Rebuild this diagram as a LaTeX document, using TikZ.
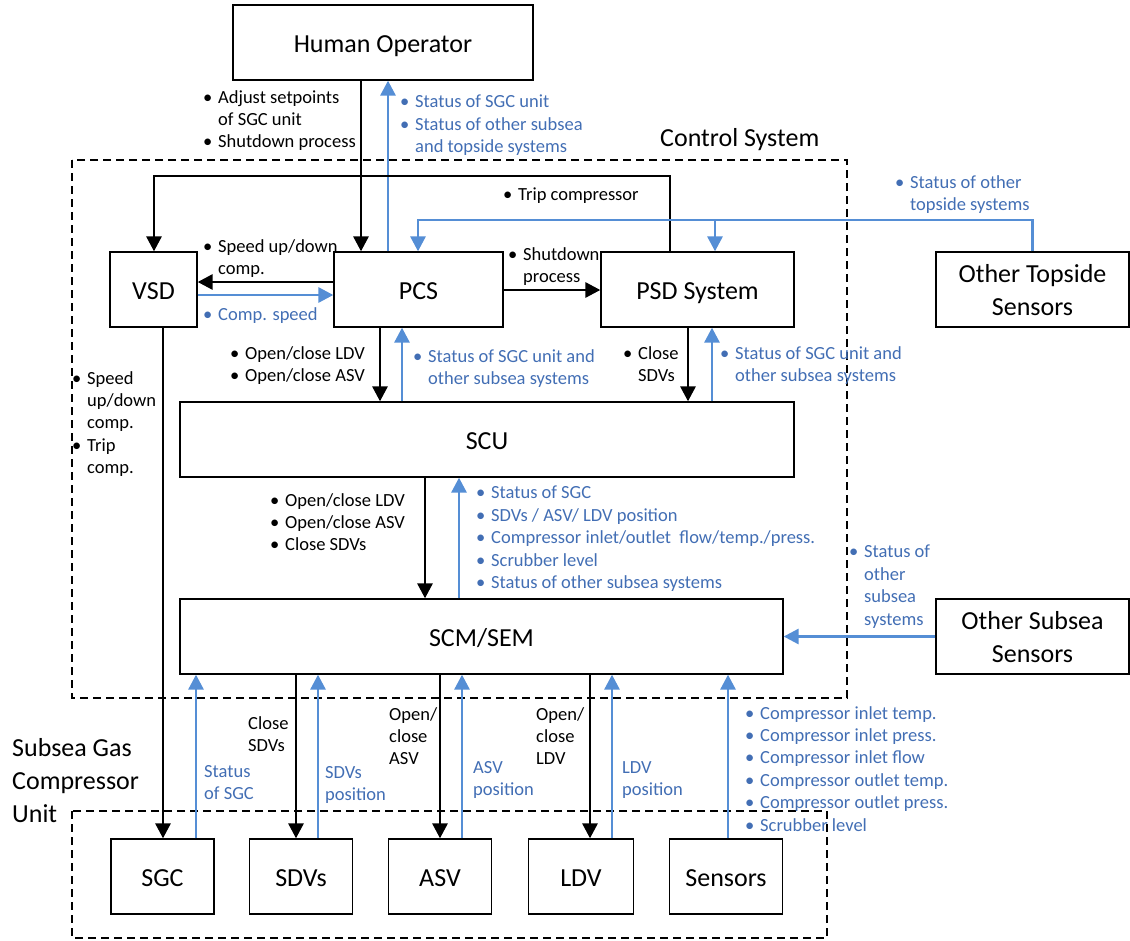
\documentclass[tikz,border=0pt]{standalone}
\usepackage{fontspec}
\setmainfont{Carlito}
\usetikzlibrary{arrows.meta}
\definecolor{sigblue}{RGB}{85,142,213}
\definecolor{txtblue}{RGB}{66,110,180}
\newcommand{\lblfont}{\fontsize{18.5}{22.4}\selectfont}
\newcommand{\bigfont}{\fontsize{26}{32.5}\selectfont}
\newcommand{\hugfont}{\fontsize{26}{33}\selectfont}
\newcommand{\bu}{\makebox[15pt][l]{\textbullet}}
\newcommand{\ind}{\hspace*{15pt}}
% box caption, set a little below the geometric centre
\newcommand{\bx}[1]{\raisebox{-3pt}[\height][\depth]{\begin{tabular}{@{}c@{}}#1\end{tabular}}}

\begin{document}
\begin{tikzpicture}[x=1pt,y=-1pt,
  box/.style={draw, line width=1.3pt, inner sep=0pt, font=\bigfont, minimum height=75pt},
  cmd/.style={line width=2.9pt, -{Triangle[length=15pt,width=15pt]}},
  fb/.style={line width=2.9pt, draw=sigblue, color=sigblue, -{Triangle[length=15pt,width=15pt]}},
  lbl/.style={anchor=north west, inner sep=0pt, align=left, font=\lblfont, yshift=12pt, execute at begin node=\strut},
  blbl/.style={lbl, text=txtblue},
  title/.style={anchor=north west, inner sep=0pt, align=left, font=\hugfont, yshift=19.5pt, execute at begin node=\strut},
  region/.style={draw, line width=1.1pt, dash pattern=on 8pt off 5pt},
]
\useasboundingbox (0,0) rectangle (1130,940);

% grouping frames
\draw[region] (72,160) rectangle (847,698);
\draw[region] (72,811) rectangle (827,938);
\node[title] (cstitle) at (660,143) {Control System};
\node[title] (sgcutitle) at (12,758) {Subsea Gas\\Compressor\\Unit};

% blocks
\node[box, minimum width=300pt] (ho) at (383,42.5) {\bx{Human Operator}};
\node[box, minimum width=87pt] (vsd) at (153.5,289.5) {\bx{VSD}};
\node[box, minimum width=169pt] (pcs) at (418.5,289.5) {\bx{PCS}};
\node[box, minimum width=193pt] (psd) at (697.5,289.5) {\bx{PSD System}};
\node[box, minimum width=193pt] (ots) at (1032.5,289.5) {\bx{Other Topside\\Sensors}};
\node[box, minimum width=614pt] (scu) at (487,439.5) {\bx{SCU}};
\node[box, minimum width=603pt] (scm) at (481.5,636.5) {\bx{SCM/SEM}};
\node[box, minimum width=193pt] (oss) at (1032.5,636.5) {\bx{Other Subsea\\Sensors}};
\node[box, minimum width=103pt] (sgc) at (162.5,876.5) {\bx{SGC}};
\node[box, minimum width=103pt] (sdvs) at (301,876.5) {\bx{SDVs}};
\node[box, minimum width=103pt] (asv) at (440,876.5) {\bx{ASV}};
\node[box, minimum width=105pt] (ldv) at (581,876.5) {\bx{LDV}};
\node[box, minimum width=113pt] (sens) at (726,876.5) {\bx{Sensors}};

% operator links
\draw[cmd] (361,0 |- ho.south) -- (361,0 |- pcs.north);
\draw[fb] (388,0 |- pcs.north) -- (388,0 |- ho.south);

% trip line from PSD to VSD
\draw[cmd] (670,0 |- psd.north) -- (670,176) -- (154,176) -- (154,0 |- vsd.north);

% topside sensor status
\draw[fb] (ots.north) -- (ots.north |- 0,220) -- (418,220) -- (418,0 |- pcs.north);
\draw[fb] (715,220) -- (715,0 |- psd.north);

% VSD / PCS / PSD
\draw[cmd] (pcs.west |- 0,282) -- (vsd.east |- 0,282);
\draw[fb] (vsd.east |- 0,295) -- (pcs.west |- 0,295);
\draw[cmd] (pcs.east |- 0,290) -- (psd.west |- 0,290);

% PCS, PSD to SCU
\draw[cmd] (380,0 |- pcs.south) -- (380,0 |- scu.north);
\draw[fb] (402,0 |- scu.north) -- (402,0 |- pcs.south);
\draw[cmd] (688,0 |- psd.south) -- (688,0 |- scu.north);
\draw[fb] (712,0 |- scu.north) -- (712,0 |- psd.south);

% VSD to compressor
\draw[cmd] (163,0 |- vsd.south) -- (163,0 |- sgc.north);

% SCU to SCM/SEM
\draw[cmd] (425,0 |- scu.south) -- (425,0 |- scm.north);
\draw[fb] (459,0 |- scm.north) -- (459,0 |- scu.south);

% other subsea sensors
\draw[fb] (oss.west) -- (scm.east);

% SCM/SEM to subsea equipment
\draw[fb] (196,0 |- sgc.north) -- (196,0 |- scm.south);
\draw[cmd] (296,0 |- scm.south) -- (296,0 |- sdvs.north);
\draw[fb] (318,0 |- sdvs.north) -- (318,0 |- scm.south);
\draw[cmd] (440,0 |- scm.south) -- (440,0 |- asv.north);
\draw[fb] (462,0 |- asv.north) -- (462,0 |- scm.south);
\draw[cmd] (590,0 |- scm.south) -- (590,0 |- ldv.north);
\draw[fb] (612,0 |- ldv.north) -- (612,0 |- scm.south);
\draw[fb] (728,0 |- sens.north) -- (728,0 |- scm.south);

% signal labels
\node[lbl] (l1) at (203,102) {\bu Adjust setpoints\\\ind of SGC unit\\\bu Shutdown process};
\node[blbl] (l2) at (400,107) {\bu Status of SGC unit\\\bu Status of other subsea\\\ind and topside systems};
\node[lbl] (l3) at (503,197) {\bu Trip compressor};
\node[blbl] (l4) at (895,187) {\bu Status of other\\\ind topside systems};
\node[lbl] (l5) at (203,251) {\bu Speed up/down\\\ind comp.};
\node[blbl] (l6) at (203,317) {\bu Comp. speed};
\node[lbl] (l7) at (508,259) {\bu Shutdown\\\ind process};
\node[lbl] (l8) at (230,358) {\bu Open/close LDV\\\bu Open/close ASV};
\node[blbl] (l9) at (413,361) {\bu Status of SGC unit and\\\ind other subsea systems};
\node[lbl] (l10) at (623,358) {\bu Close\\\ind SDVs};
\node[blbl] (l11) at (720,358) {\bu Status of SGC unit and\\\ind other subsea systems};
\node[lbl] (l12) at (72,383) {\bu Speed\\\ind up/down\\\ind comp.\\\bu Trip\\\ind comp.};
\node[lbl] (l13) at (270,505) {\bu Open/close LDV\\\bu Open/close ASV\\\bu Close SDVs};
\node[blbl] (l14) at (476,498) {\bu Status of SGC\\\bu SDVs / ASV/ LDV position\\\bu Compressor inlet/outlet\ \ flow/temp./press.\\\bu Scrubber level\\\bu Status of other subsea systems};
\node[blbl] (l15) at (849,557) {\bu Status of\\\ind other\\\ind subsea\\\ind systems};
\node[blbl] (l16) at (204,777) {Status\\of SGC};
\node[lbl] (l17) at (248,728) {Close\\SDVs};
\node[blbl] (l18) at (325,778) {SDVs\\position};
\node[lbl] (l19) at (389,719) {Open/\\close\\ASV};
\node[blbl] (l20) at (473,773) {ASV\\position};
\node[lbl] (l21) at (536,719) {Open/\\close\\LDV};
\node[blbl] (l22) at (622,773) {LDV\\position};
\node[blbl] (l23) at (745,718) {\bu Compressor inlet temp.\\\bu Compressor inlet press.\\\bu Compressor inlet flow\\\bu Compressor outlet temp.\\\bu Compressor outlet press.\\\bu Scrubber level};
\end{tikzpicture}
\end{document}
